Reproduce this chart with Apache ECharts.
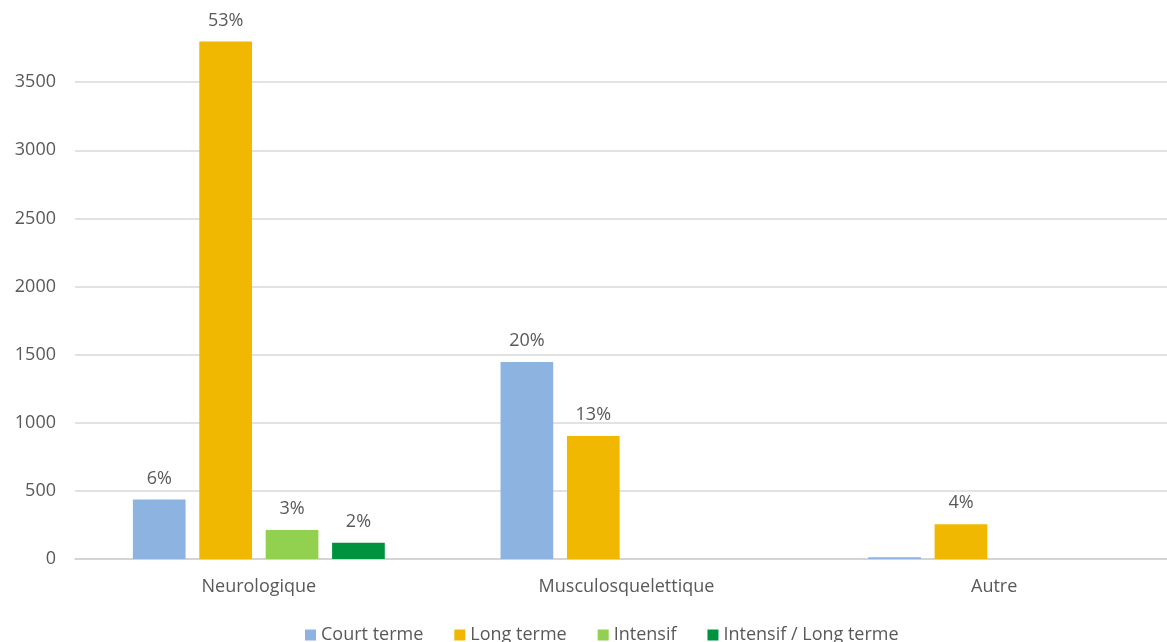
<!DOCTYPE html>
<html><head><meta charset="utf-8">
<script src="https://cdn.jsdelivr.net/npm/echarts@6/dist/echarts.min.js"></script>
<style>html,body{margin:0;padding:0;background:#fff;overflow:hidden}#c{width:1180px;height:642px}</style>
</head><body><div id="c"></div>
<script>
const categories = ['Neurologique', 'Musculosquelettique', 'Autre'];
const seriesNames = ['Court terme', 'Long terme', 'Intensif', 'Intensif / Long terme'];
const courtTerme = [437, 1445, 12];
const longTerme = [3798, 902, 255];
const intensif = [213, 0, 0];
const intensifLong = [120, 0, 0];
const courtLabels = ['6%', '20%', ''];
const longLabels = ['53%', '13%', '4%'];
const intensifLabels = ['3%', '', ''];
const intensifLongLabels = ['2%', '', ''];
const yTicks = [0, 500, 1000, 1500, 2000, 2500, 3000, 3500];

const colors = ['#8db4e0', '#f0b800', '#92d050', '#00933f'];
const values = [courtTerme, longTerme, intensif, intensifLong];
const labels = [courtLabels, longLabels, intensifLabels, intensifLongLabels];
const txt = '#595959';
const font = '"Open Sans", "Liberation Sans", sans-serif';
const fs = 18;

const chart = echarts.init(document.getElementById('c'));
chart.setOption({
  animation: false,
  textStyle: { fontFamily: font },
  grid: { left: 75, right: 2, top: 14, bottom: 83, containLabel: false },
  legend: {
    left: 300, top: 621,
    itemWidth: 11, itemHeight: 11, itemGap: 31,
    icon: 'rect',
    textStyle: { color: txt, fontSize: fs, fontFamily: font },
    data: seriesNames
  },
  xAxis: {
    type: 'category',
    data: categories,
    axisLine: { show: true, lineStyle: { color: '#d0d0d0', width: 1.5 } },
    axisTick: { show: false },
    axisLabel: { color: txt, fontSize: fs, margin: 19, fontFamily: font }
  },
  yAxis: {
    type: 'value',
    min: 0, max: 4000, interval: 500,
    axisLine: { show: false },
    axisTick: { show: false },
    axisLabel: {
      color: txt, fontSize: fs, margin: 19, fontFamily: font, showMaxLabel: false,
      formatter: v => yTicks.includes(v) ? String(v) : ''
    },
    splitLine: { show: true, showMaxLine: false, lineStyle: { color: '#d9d9d9', width: 1.5 } }
  },
  series: seriesNames.map((n, i) => ({
    name: n,
    type: 'bar',
    barWidth: 52.7,
    barGap: '26%',
    itemStyle: { color: colors[i] },
    data: values[i].map((v, j) => ({
      value: v,
      label: {
        show: labels[i][j] !== '',
        position: 'top',
        distance: 12,
        color: txt,
        fontSize: fs,
        fontFamily: font,
        formatter: () => labels[i][j]
      }
    }))
  }))
});
</script>
</body></html>
